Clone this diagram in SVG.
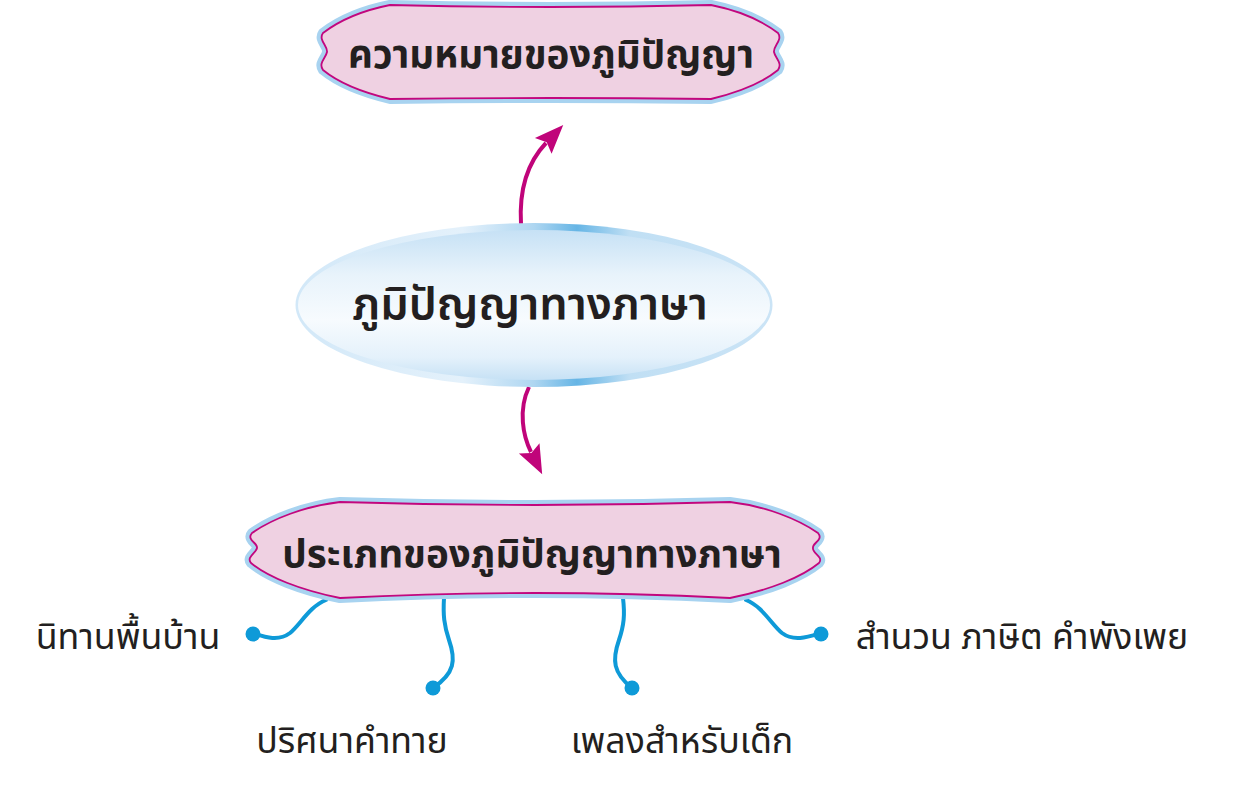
<svg xmlns="http://www.w3.org/2000/svg" width="1235" height="792" viewBox="0 0 1235 792">
<style>
.rim{fill:none;stroke:#a8d3f0;stroke-width:10;stroke-linejoin:round}
.box{fill:#efd1e2;stroke:#c2077e;stroke-width:1.8}
.t{font-family:"Noto Sans Thai","Noto Sans Thai UI","Loma","Garuda","Tahoma","Noto Sans",sans-serif;fill:#231f20;text-anchor:middle}
.bold{font-weight:bold}
.arr{fill:none;stroke:#c0047a;stroke-width:4;stroke-linecap:butt}
.con{fill:none;stroke:#0e9ad8;stroke-width:4;stroke-linecap:round}
.dot{fill:#0e9ad8}
</style>
<defs>
<marker id="ah" markerUnits="userSpaceOnUse" markerWidth="34" markerHeight="28" refX="4" refY="0" viewBox="0 -14 34 28" orient="auto">
<path d="M0,-11.5 L29,0 L0,11.5 L5,0 Z" fill="#c0047a"/>
</marker>
<linearGradient id="rimg" x1="0" y1="0" x2="1" y2="0">
<stop offset="0" stop-color="#d2e8f8"/>
<stop offset="0.35" stop-color="#e4f1fb"/>
<stop offset="0.5" stop-color="#aed6f1"/>
<stop offset="0.59" stop-color="#66b5e5"/>
<stop offset="0.7" stop-color="#c0dff4"/>
<stop offset="1" stop-color="#cbe4f6"/>
</linearGradient>
<linearGradient id="inner" x1="0" y1="0" x2="0" y2="1">
<stop offset="0" stop-color="#c6e1f5"/>
<stop offset="0.3" stop-color="#e8f3fb"/>
<stop offset="0.6" stop-color="#f7fbfe"/>
<stop offset="0.85" stop-color="#e4f1fb"/>
<stop offset="1" stop-color="#c6e1f5"/>
</linearGradient>
</defs>

<g id="connectors">
<path class="arr" d="M521,224 C519,190 527,163 546,143" marker-end="url(#ah)"/>
<path class="arr" d="M529,387 C518,410 523,436 531,452" marker-end="url(#ah)"/>
<path class="con" d="M326,600 C310,606 300,625 290,633 C278,642 265,637 253,633"/>
<circle class="dot" cx="253" cy="634" r="7.5"/>
<path class="con" d="M444,598 C443,615 444,625 449,640 C456,660 455,673 433,688"/>
<circle class="dot" cx="433" cy="688" r="7.5"/>
<path class="con" d="M623,598 C625,615 624,625 619,640 C612,660 613,673 632,688"/>
<circle class="dot" cx="632" cy="688" r="7.5"/>
<path class="con" d="M746,600 C762,606 772,625 782,633 C794,642 808,637 821,633"/>
<circle class="dot" cx="821" cy="634" r="7.5"/>
</g>

<g id="node-meaning">
<path class="rim" d="M390,5 C365,10 340,20 323,33 C318,40 328,46 327,52 C326,58 318,63 323,70 C340,84 365,93 390,99 Q550.5,97 711,99 C736,93 761,84 778,70 C783,63 775,58 774,52 C773,46 783,40 778,33 C761,20 736,10 711,5 Q550.5,9 390,5 Z"/>
<path class="box" d="M390,5 C365,10 340,20 323,33 C318,40 328,46 327,52 C326,58 318,63 323,70 C340,84 365,93 390,99 Q550.5,97 711,99 C736,93 761,84 778,70 C783,63 775,58 774,52 C773,46 783,40 778,33 C761,20 736,10 711,5 Q550.5,9 390,5 Z"/>
<text class="t bold" x="551" y="68" font-size="38.5">ความหมายของภูมิปัญญา</text>
</g>

<g id="node-center">
<ellipse cx="534" cy="305" rx="238.5" ry="82" fill="url(#rimg)"/>
<ellipse cx="534" cy="305" rx="236" ry="75" fill="url(#inner)"/>
<text class="t" x="530" y="319" font-size="45" font-weight="600">ภูมิปัญญาทางภาษา</text>
</g>

<g id="node-types">
<path class="rim" d="M340,502 C305,506 272,519 252,533 C246,540 258,543 257,548 C256,553 246,557 251,563 C268,577 300,590 340,598 Q535,588 730,598 C770,590 802,577 819,563 C824,557 812,553 813,548 C812,543 824,540 818,533 C798,519 765,506 730,502 Q535,508 340,502 Z"/>
<path class="box" d="M340,502 C305,506 272,519 252,533 C246,540 258,543 257,548 C256,553 246,557 251,563 C268,577 300,590 340,598 Q535,588 730,598 C770,590 802,577 819,563 C824,557 812,553 813,548 C812,543 824,540 818,533 C798,519 765,506 730,502 Q535,508 340,502 Z"/>
<text class="t bold" x="532" y="567" font-size="38.6">ประเภทของภูมิปัญญาทางภาษา</text>
</g>

<g id="node-folktale"><text class="t" x="128" y="649" font-size="35.7">นิทานพื้นบ้าน</text></g>
<g id="node-riddle"><text class="t" x="352" y="753" font-size="35.7">ปริศนาคำทาย</text></g>
<g id="node-songs"><text class="t" x="682" y="753" font-size="35.7">เพลงสำหรับเด็ก</text></g>
<g id="node-proverbs"><text class="t" x="1022" y="649" font-size="35.7">สำนวน ภาษิต คำพังเพย</text></g>
</svg>
